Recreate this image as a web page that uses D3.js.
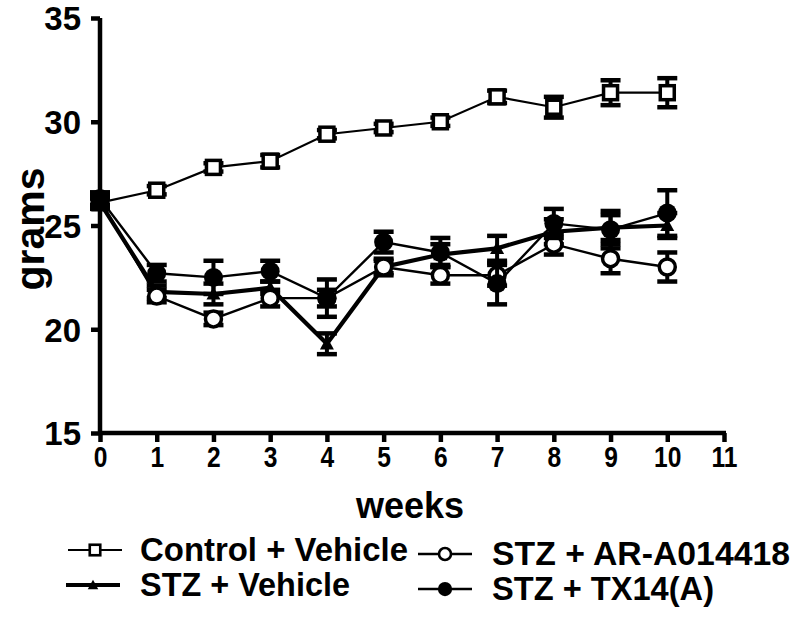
<!DOCTYPE html>
<html><head><meta charset="utf-8">
<script src="https://cdn.jsdelivr.net/npm/d3@7"></script>
<style>body{margin:0;background:#fff;} text{font-family:"Liberation Sans",Arial,sans-serif;font-weight:bold;fill:#000;}</style>
</head><body>
<svg id="c" width="800" height="617"></svg>
<script>
const weeks = [0,1,2,3,4,5,6,7,8,9,10];
const controlVehicle = [26.1,26.7,27.8,28.1,29.4,29.7,30.0,31.2,30.7,31.4,31.4];
const controlVehicleErr = [0.2,0.2,0.2,0.3,0.2,0.2,0.2,0.3,0.5,0.6,0.7];
const stzVehicle = [26.1,21.8,21.7,22.0,19.3,23.0,23.6,23.9,24.7,24.9,25.0];
const stzVehicleErr = [0.3,0.3,0.5,0.3,0.5,0.4,0.5,0.6,0.6,0.6,0.6];
const stzAR = [26.2,21.6,20.5,21.5,21.5,23.0,22.6,22.6,24.1,23.4,23.0];
const stzARErr = [0.3,0.3,0.3,0.4,0.4,0.3,0.4,0.5,0.5,0.7,0.7];
const stzTX = [26.3,22.7,22.5,22.8,21.5,24.2,23.7,22.2,25.1,24.8,25.6];
const stzTXErr = [0.3,0.4,0.8,0.5,0.9,0.5,0.7,1.0,0.7,0.9,1.1];
const xTicks = [0,1,2,3,4,5,6,7,8,9,10,11];
const yTicks = [15,20,25,30,35];
const seriesNames = ["Control + Vehicle","STZ + Vehicle","STZ + AR-A014418","STZ + TX14(A)"];

const svg = d3.select("#c");
const x = d3.scaleLinear().domain([0,11]).range([100,724]);
const y = d3.scaleLinear().domain([15,35]).range([433,18]);

// axes
const yAx = svg.append("g").attr("transform","translate(100,0)")
  .call(d3.axisLeft(y).tickValues(yTicks).tickSize(9).tickPadding(10));
const xAx = svg.append("g").attr("transform","translate(0,433)")
  .call(d3.axisBottom(x).tickValues(xTicks).tickSize(9).tickPadding(6));
[yAx,xAx].forEach(a=>{
  a.select(".domain").attr("stroke","#000").attr("stroke-width",4.5);
  a.selectAll(".tick line").attr("stroke","#000").attr("stroke-width",4.5);
});
yAx.selectAll(".tick text").style("font-size","33px").attr("dy","0.36em");
xAx.selectAll(".tick text").style("font-size","30px").attr("dy","0.62em")
  .attr("transform","scale(0.82,1)");
yAx.select(".domain").attr("d","M0,18V435");
xAx.select(".domain").attr("d","M98,0H726");

svg.append("text").attr("transform","translate(44,229) rotate(-90)")
  .attr("text-anchor","middle").style("font-size","41px").text("grams");
svg.append("text").attr("x",410).attr("y",518)
  .attr("text-anchor","middle").style("font-size","36px").text("weeks");

const series = [
  {name:seriesNames[0], v:controlVehicle, e:controlVehicleErr, sym:"square", lw:2.2},
  {name:seriesNames[1], v:stzVehicle, e:stzVehicleErr, sym:"triangle", lw:4.2},
  {name:seriesNames[2], v:stzAR, e:stzARErr, sym:"opencircle", lw:2.4},
  {name:seriesNames[3], v:stzTX, e:stzTXErr, sym:"filledcircle", lw:2.4}
];

function drawSym(g, sym, cx, cy, s){
  s = s||1;
  if(sym==="square"){
    g.append("rect").attr("x",cx-7*s).attr("y",cy-7*s).attr("width",14*s).attr("height",14*s)
      .attr("fill","#fff").attr("stroke","#000").attr("stroke-width",3.5*s);
  } else if(sym==="triangle"){
    const h=7*s;
    g.append("path").attr("d",`M${cx},${cy-h}L${cx+h},${cy+h*0.8}L${cx-h},${cy+h*0.8}Z`).attr("fill","#000");
  } else if(sym==="opencircle"){
    g.append("circle").attr("cx",cx).attr("cy",cy).attr("r",8*s)
      .attr("fill","#fff").attr("stroke","#000").attr("stroke-width",3.5*s);
  } else {
    g.append("circle").attr("cx",cx).attr("cy",cy).attr("r",9.5*s).attr("fill","#000");
  }
}

const line = d3.line().x((d,i)=>x(weeks[i])).y(d=>y(d));
series.forEach(s=>{
  const g = svg.append("g");
  s.v.forEach((v,i)=>{
    const cx = x(weeks[i]);
    const t = y(v+s.e[i]), b = y(v-s.e[i]);
    g.append("line").attr("x1",cx).attr("x2",cx).attr("y1",t).attr("y2",b).attr("stroke","#000").attr("stroke-width",4);
    [t,b].forEach(yy=>g.append("line").attr("x1",cx-10).attr("x2",cx+10).attr("y1",yy).attr("y2",yy)
      .attr("stroke","#000").attr("stroke-width",4.5));
  });
  g.append("path").attr("d",line(s.v)).attr("fill","none").attr("stroke","#000").attr("stroke-width",s.lw);
  s.v.forEach((v,i)=>drawSym(g,s.sym,x(weeks[i]),y(v)));
});

// legend
const leg = [
  {s:series[0], lx:68, ly:550, tx:140, w:268},
  {s:series[1], lx:66, ly:585, tx:140, w:210},
  {s:series[2], lx:418, ly:554, tx:492, w:298},
  {s:series[3], lx:418, ly:589, tx:492, w:222}
];
leg.forEach(l=>{
  const g = svg.append("g");
  g.append("line").attr("x1",l.lx).attr("x2",l.lx+54).attr("y1",l.ly).attr("y2",l.ly)
    .attr("stroke","#000").attr("stroke-width",l.s.lw);
  drawSym(g,l.s.sym,l.lx+27,l.ly,0.75);
  g.append("text").attr("transform",`translate(${l.tx},${l.ly+11}) scale(1,1.1)`)
    .style("font-size","31px").attr("textLength",l.w).attr("lengthAdjust","spacingAndGlyphs").text(l.s.name);
});
</script>
</body></html>
